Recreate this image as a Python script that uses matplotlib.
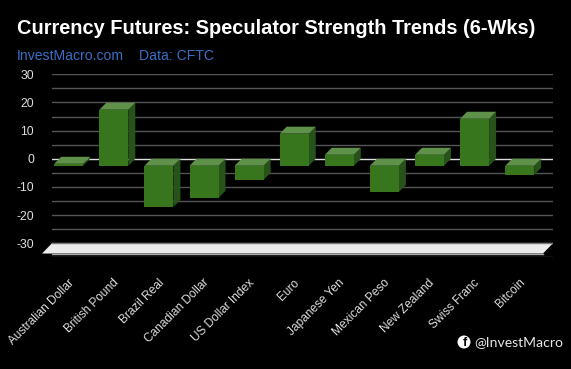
import matplotlib
matplotlib.use("Agg")
import matplotlib.pyplot as plt
from matplotlib.patches import Circle, Polygon
from matplotlib.transforms import ScaledTranslation

categories = ["Australian Dollar", "British Pound", "Brazil Real", "Canadian Dollar",
              "US Dollar Index", "Euro", "Japanese Yen", "Mexican Peso",
              "New Zealand", "Swiss Franc", "Bitcoin"]
values = [0.7, 19.9, -14.6, -11.4, -5.0, 11.4, 3.9, -9.3, 3.9, 16.7, -3.2]
y_ticks = [30, 20, 10, 0, -10, -20, -30]
grid_levels = [30, 25, 20, 15, 10, 5, -5, -10, -15, -20, -25, -30, -35]
title = "Currency Futures: Speculator Strength Trends (6-Wks)"
subtitle_a = "InvestMacro.com"
subtitle_b = "Data: CFTC"
handle = "@InvestMacro"

W, H = 571, 369
FRONT, TOP, SIDE = "#38761d", "#5f914b", "#27531a"

plt.rcParams["font.family"] = ["Liberation Sans", "DejaVu Sans"]
fig = plt.figure(figsize=(W / 100, H / 100), dpi=100, facecolor="black")
L, R, T, B = 52, 553, 74.3, 257.3
ax = fig.add_axes([L / W, 1 - B / H, (R - L) / W, (B - T) / H], facecolor="black")
step = 45.1
xlo, xhi = (L - 75.7) / step, (R - 75.7) / step
ax.set_xlim(xlo, xhi)
ax.set_ylim(-35, 30)
px_y = (B - T) / 65
dx, dy = 7 / step, 7 / px_y
half = 14.5 / step

for s in ["top", "right", "left", "bottom"]:
    ax.spines[s].set_visible(False)
for g in grid_levels:
    ax.axhline(g, color="#555555", lw=1, zorder=1)
ax.axhline(0, color="#dddddd", lw=1, zorder=1.5)

for i, v in enumerate(values):
    x0, x1 = i - half, i + half
    top_y = max(0, v)
    ftop = top_y - dy
    ax.add_patch(Polygon([(x1 - dx, ftop), (x1, top_y), (x1, min(0, v)), (x1 - dx, min(0, v) - dy)],
                         fc=SIDE, ec="none", zorder=3))
    ax.add_patch(Polygon([(x0 - dx, ftop), (x0, top_y), (x1, top_y), (x1 - dx, ftop)],
                         fc=TOP, ec="none", zorder=3))
    ax.bar(i - dx, v, width=2 * half, bottom=-dy, color=FRONT, zorder=4)

# floor plane
fd_x, fd_y = 10 / step, 10.3 / px_y
ax.add_patch(Polygon([(xlo - fd_x, -30 - fd_y), (xlo, -30), (xhi, -30), (xhi - fd_x, -30 - fd_y)],
                     fc="#ececec", ec="none", zorder=2, clip_on=False))
ax.plot([xlo, xhi], [-30, -30], color="#777777", lw=1, zorder=2.5)
ax.plot([xlo - fd_x, xhi - fd_x], [-30 - fd_y, -30 - fd_y], color="#aaaaaa", lw=1, zorder=2.5)

ax.set_yticks(y_ticks)
ax.set_yticklabels([str(t) for t in y_ticks], color="#dddddd", fontsize=8.8)
ax.tick_params(axis="y", length=0, pad=13)
ax.set_xticks(range(len(categories)))
ax.set_xticklabels(categories, rotation=45, ha="right", rotation_mode="anchor",
                   color="#dddddd", fontsize=8.6)
ax.tick_params(axis="x", length=0, pad=14)
shift = ScaledTranslation(-8 / 72 * 0.72, 0, fig.dpi_scale_trans)
for lab in ax.get_xticklabels():
    lab.set_transform(lab.get_transform() + shift)

fig.text(17 / W, 1 - 29 / H, title, color="white", fontsize=14.45, fontweight="bold",
         va="center", ha="left")
fig.text(17 / W, 1 - 56 / H, subtitle_a, color="#3a6ec6", fontsize=10.1, va="center", ha="left")
fig.text(139 / W, 1 - 56 / H, subtitle_b, color="#3a6ec6", fontsize=10.1, va="center", ha="left")
fig.text(474 / W, 1 - 342 / H, handle, color="#e8e8e8", fontsize=10.1, va="center", ha="left",
         family=["Lato", "DejaVu Sans"])
fig.add_artist(Circle((464, H - 342), 6.5, transform=None, fc="white", ec="none"))
fig.text(464.5 / W, 1 - 342.5 / H, "f", color="black", fontsize=9, fontweight="bold",
         va="center", ha="center")

fig.savefig("out.png", dpi=100, facecolor="black")
